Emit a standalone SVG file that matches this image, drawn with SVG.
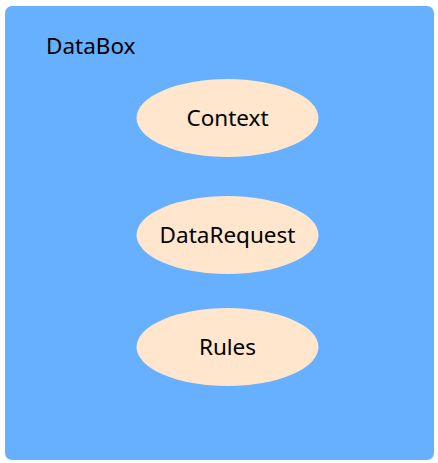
<svg xmlns="http://www.w3.org/2000/svg" width="438" height="463" viewBox="0 0 438 463">
<style>
.box{fill:#66B0FF;}
.node{fill:#FFE6CC;}
.lbl{font-family:"Noto Sans","Open Sans","DejaVu Sans",sans-serif;font-size:22.5px;fill:#000;}
</style>
<rect width="438" height="463" fill="#fff"/>
<g id="DataBox">
<rect class="box" x="5" y="6" width="429" height="454" rx="7" ry="7"/>
<text class="lbl" x="46" y="54">DataBox</text>
</g>
<g id="connectors"></g>
<g id="Context">
<ellipse class="node" cx="227.5" cy="118" rx="91" ry="39"/>
<text class="lbl" x="227.5" y="126" text-anchor="middle">Context</text>
</g>
<g id="DataRequest">
<ellipse class="node" cx="227.5" cy="235" rx="91" ry="39"/>
<text class="lbl" x="227.5" y="243" text-anchor="middle">DataRequest</text>
</g>
<g id="Rules">
<ellipse class="node" cx="227.5" cy="347" rx="91" ry="39"/>
<text class="lbl" x="227.5" y="355" text-anchor="middle">Rules</text>
</g>
</svg>
